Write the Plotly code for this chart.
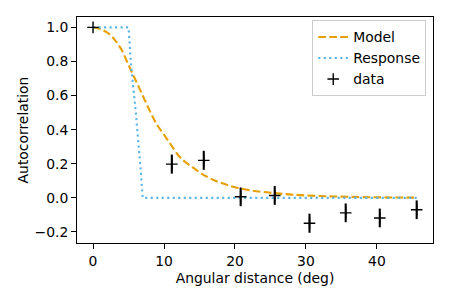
import plotly.graph_objects as go

# Model curve
model_x = [0, 1, 2, 3, 4, 5, 6, 7, 8, 9, 10, 11, 12, 13, 14, 15, 16, 17, 18, 19, 20,
           22, 24, 26, 28, 30, 33, 36, 40, 45.6]
model_y = [1.0, 0.99, 0.97, 0.93, 0.87, 0.78, 0.69, 0.60, 0.51, 0.43, 0.37, 0.31, 0.25,
           0.21, 0.18, 0.15, 0.125, 0.105, 0.088, 0.074, 0.062, 0.045, 0.034, 0.026,
           0.019, 0.014, 0.009, 0.006, 0.003, 0.001]

# Response curve
resp_x = [0, 5.0, 5.35, 6.05, 6.66, 7.0, 45.6]
resp_y = [1.0, 1.0, 0.78, 0.49, 0.19, 0.0, 0.0]

# Data points
data_x = [0, 11.1, 15.6, 20.8, 25.6, 30.5, 35.6, 40.4, 45.6]
data_y = [1.0, 0.198, 0.22, 0.006, 0.014, -0.149, -0.088, -0.118, -0.07]
data_err = [0.0, 0.056, 0.056, 0.055, 0.055, 0.056, 0.055, 0.055, 0.055]

x_ticks = [0, 10, 20, 30, 40]
y_ticks = [-0.2, 0.0, 0.2, 0.4, 0.6, 0.8, 1.0]

FONT = "DejaVu Sans"
FS = 13.9

fig = go.Figure()
fig.add_trace(go.Scatter(x=model_x, y=model_y, mode="lines", name="Model",
                         line=dict(color="#E69F00", width=2.1, dash="7.7px,3.3px", shape="spline")))
fig.add_trace(go.Scatter(x=resp_x, y=resp_y, mode="lines", name="Response",
                         line=dict(color="#56B4E9", width=2.1, dash="2.1px,3.4px")))
fig.add_trace(go.Scatter(x=data_x, y=data_y, mode="markers", name="data",
                         marker=dict(symbol="cross-thin", size=8.3, color="black",
                                     line=dict(color="black", width=1.4)),
                         error_y=dict(type="data", array=data_err, visible=True,
                                      color="black", thickness=2.1, width=0)))

axis_common = dict(showline=True, linecolor="black", linewidth=1.1, mirror=True,
                   ticks="outside", ticklen=4.9, tickwidth=1.1, tickcolor="black",
                   showgrid=False, zeroline=False, automargin=False,
                   tickfont=dict(family=FONT, size=FS, color="black"))

fig.update_xaxes(range=[-2.26, 47.9], tickvals=x_ticks, ticktext=[str(v) for v in x_ticks],
                 title=dict(text="Angular distance (deg)", font=dict(family=FONT, size=FS, color="black"),
                            standoff=5),
                 **axis_common)
fig.update_yaxes(range=[-0.265, 1.061], tickvals=y_ticks, tickformat=".1f",
                 title=dict(text="Autocorrelation", font=dict(family=FONT, size=FS, color="black"),
                            standoff=2),
                 **axis_common)

# the page body adds an 8px offset; margins compensate so the plot area lands where the reference has it
fig.update_layout(
    width=450, height=300,
    margin=dict(l=69.3, r=25.3, t=9.3, b=64.7),
    paper_bgcolor="white", plot_bgcolor="white",
    font=dict(family=FONT, size=FS, color="black"),
    legend=dict(x=0.981, y=0.985, xanchor="right", yanchor="top",
                bgcolor="rgba(255,255,255,0.8)", bordercolor="#cccccc", borderwidth=1,
                font=dict(family=FONT, size=FS, color="black"),
                tracegroupgap=0, itemwidth=30),
    showlegend=True,
)

fig.write_html("out.html")
